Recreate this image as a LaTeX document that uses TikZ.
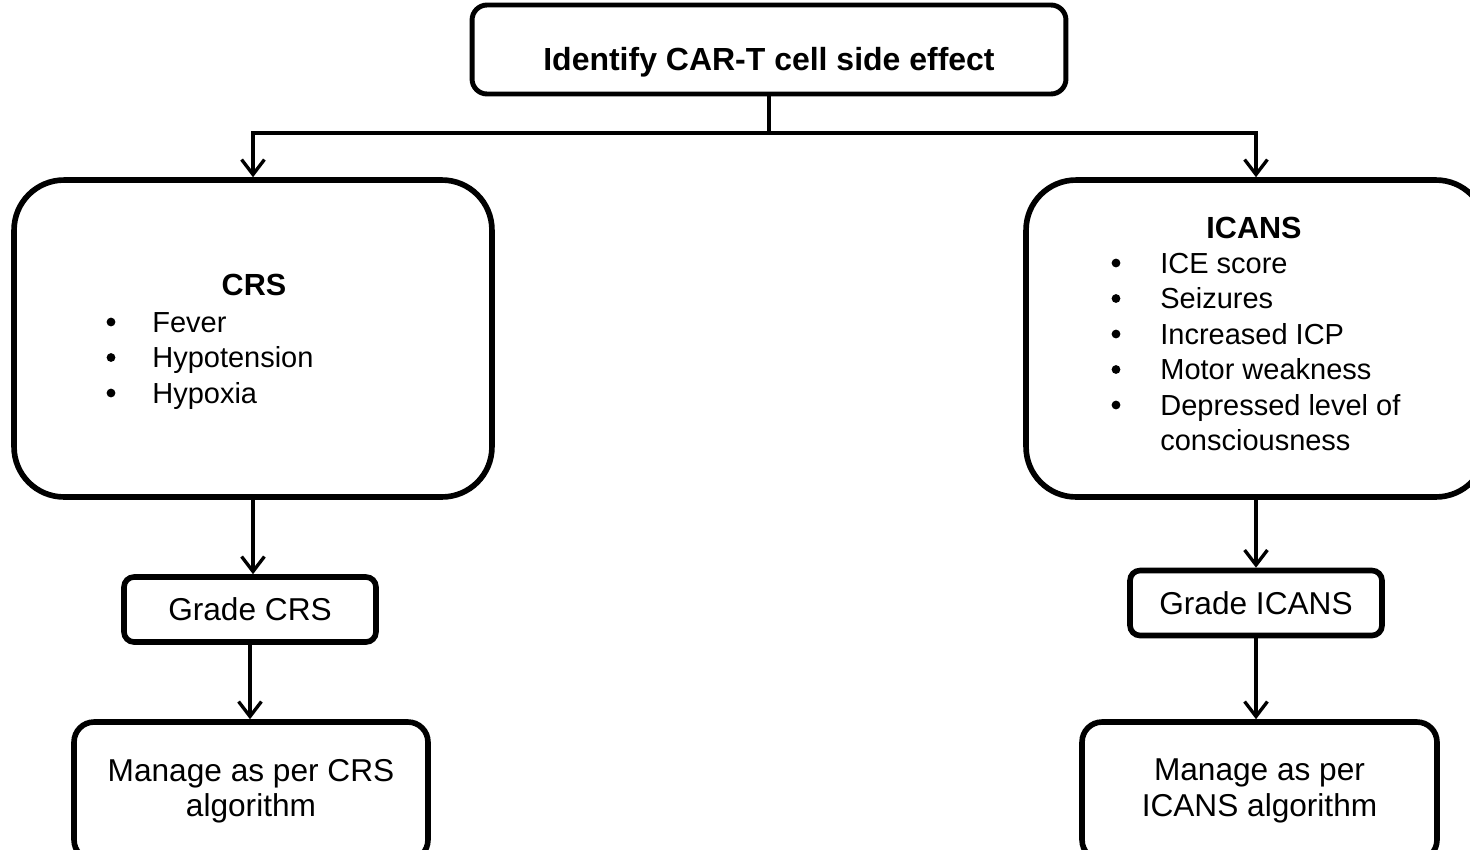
\documentclass[tikz,border=0pt]{standalone}
\usepackage{fontspec}
\setmainfont{Liberation Sans}
\usetikzlibrary{arrows.meta}

\begin{document}
\begin{tikzpicture}[x=0.02cm, y=-0.02cm,
    font=\fontsize{18}{20.2}\selectfont,
    box/.style={draw, line width=3.2pt, rounded corners=#1, inner sep=0pt, align=center},
    head/.style={anchor=base, font=\fontsize{#1}{20.2}\selectfont\bfseries},
    entry/.style={anchor=base west, inner sep=0pt, font=\fontsize{16.5}{20.2}\selectfont},
    dot/.style={circle, fill, inner sep=0pt, minimum size=5pt},
    link/.style={line width=1.9pt},
    arrow/.style={link, -{Straight Barb[length=8.5pt, width=13pt]}}]
  \useasboundingbox (0,0) rectangle (1470,849);

  % boxes
  \node[box=0.3cm, line width=2.8pt, minimum width=11.88cm, minimum height=1.78cm] (top) at (769,49.5) {};
  \node[box=1cm, minimum width=9.56cm, minimum height=6.34cm] (crs) at (253,338.5) {};
  \node[box=1cm, minimum width=9.2cm, minimum height=6.34cm] (icans) at (1256,338.5) {};
  \node[box=0.2cm, minimum width=5.04cm, minimum height=1.3cm] (gcrs) at (250,609.5) {Grade CRS};
  \node[box=0.2cm, minimum width=5.04cm, minimum height=1.3cm] (gicans) at (1256,603) {Grade ICANS};
  \node[box=0.4cm, minimum width=7.08cm, minimum height=2.76cm] (mcrs) at (251,791) {Manage as per CRS\\algorithm};
  \node[box=0.4cm, minimum width=7.1cm, minimum height=2.76cm] (micans) at (1259.5,791) {Manage as per\\ICANS algorithm};

  % titles
  \node[head=18.2] (top-txt) at (769,70) {Identify CAR-T cell side effect};
  \node[head=17.4] (crs-txt) at (254,295) {CRS};
  \node[head=17.4] (icans-txt) at (1254,238) {ICANS};

  % symptom lists
  \foreach \item [count=\i] in {Fever, Hypotension, Hypoxia} {
    \node[dot] (crs-b\i) at (111,286.5+35.5*\i) {};
    \node[entry] (crs-l\i) at (152,296.5+35.5*\i) {\item};
  }
  \foreach \item [count=\i] in {ICE score, Seizures, Increased ICP, Motor weakness, Depressed level of} {
    \node[dot] (icans-b\i) at (1116,227.5+35.5*\i) {};
    \node[entry] (icans-l\i) at (1160,237.5+35.5*\i) {\item};
  }
  \node[entry] (icans-l6) at (1160,450.5) {consciousness};

  % connectors
  \coordinate (split) at (769,133);
  \draw[link] (top.south) -- (split);
  \draw[arrow] (split) -| (crs.north);
  \draw[arrow] (split) -| (icans.north);
  \draw[arrow] (crs.south) -- (crs.south |- gcrs.north);
  \draw[arrow] (icans.south) -- (gicans.north);
  \draw[arrow] (gcrs.south) -- (gcrs.south |- mcrs.north);
  \draw[arrow] (gicans.south) -- (gicans.south |- micans.north);
\end{tikzpicture}
\end{document}
